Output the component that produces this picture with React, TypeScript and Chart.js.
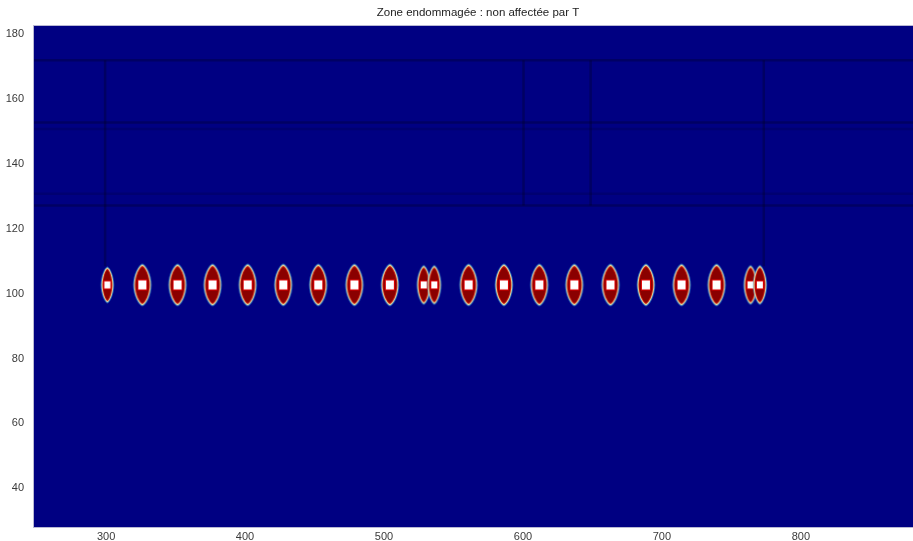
import { useEffect, useRef } from 'react';
import { Chart, registerables } from 'chart.js';
Chart.register(...registerables);

const chartTitle = 'Zone endommagée : non affectée par T';
const xTicks = [300, 400, 500, 600, 700, 800];
const yTicks = [40, 60, 80, 100, 120, 140, 160, 180];
const xMin = 247.4;
const xMax = 880.7;
const yMin = 27.7;
const yMax = 182.9;

// damage spots (centres)
const blobY = 102.7;
const edgeBlobX = [300.9];
const singleBlobX = [326.1, 351.4, 376.6, 401.9, 427.5, 452.7, 478.7, 504.2, 560.9, 586.3, 611.8, 637.0, 663.0, 688.5, 714.1, 739.3];
const pairBlobX = [528.6, 536.2, 763.8, 770.5];

// faint zone outlines
const majorLineY = [172.0, 152.8, 127.2];
const minorLineY = [150.8, 130.8];
const vLineX = [299.3, 600.4, 648.7, 773.3];
const vLineTop = 172.0;
const vLineBottom = [108.5, 127.2, 127.2, 108.5];

const FONT = "'Liberation Sans Narrow', 'Liberation Sans', Arial, sans-serif";
const EXTRA_W = 6;

function lensPath(ctx: CanvasRenderingContext2D, cx: number, cy: number, rx: number, ry: number) {
  ctx.beginPath();
  ctx.moveTo(cx, cy - ry);
  ctx.bezierCurveTo(cx + rx * 0.4, cy - ry * 0.95, cx + rx, cy - ry * 0.5, cx + rx, cy);
  ctx.bezierCurveTo(cx + rx, cy + ry * 0.5, cx + rx * 0.4, cy + ry * 0.95, cx, cy + ry);
  ctx.bezierCurveTo(cx - rx * 0.4, cy + ry * 0.95, cx - rx, cy + ry * 0.5, cx - rx, cy);
  ctx.bezierCurveTo(cx - rx, cy - ry * 0.5, cx - rx * 0.4, cy - ry * 0.95, cx, cy - ry);
  ctx.closePath();
}

function makeBlob(w: number, h: number, sq: number): HTMLCanvasElement {
  const c = document.createElement('canvas');
  const W = w + 6;
  const H = h + 6;
  c.width = W;
  c.height = H;
  const ctx = c.getContext('2d')!;
  const cx = W / 2;
  const cy = H / 2;
  lensPath(ctx, cx, cy, w / 2 + 1.3, h / 2 + 1.6);
  ctx.fillStyle = 'rgba(70,200,255,0.5)';
  ctx.fill();
  lensPath(ctx, cx, cy, w / 2 + 0.4, h / 2 + 0.4);
  ctx.fillStyle = '#e8dca0';
  ctx.fill();
  lensPath(ctx, cx, cy, w / 2 - 0.6, h / 2 - 1.0);
  ctx.fillStyle = '#c81008';
  ctx.fill();
  lensPath(ctx, cx, cy, w / 2 - 1.5, h / 2 - 2.2);
  ctx.fillStyle = '#8a0000';
  ctx.fill();
  ctx.fillStyle = '#e00000';
  ctx.fillRect(cx - sq / 2 - 1, cy - sq / 2 - 1.5, sq + 2, sq + 3);
  ctx.fillStyle = '#ffffff';
  ctx.fillRect(cx - sq / 2, cy - sq / 2 - 0.5, sq, sq + 1);
  return c;
}

export default function App() {
  const ref = useRef<HTMLCanvasElement>(null);
  useEffect(() => {
    document.body.style.margin = '0';
    const edgeImg = makeBlob(11, 34, 6);
    const singleImg = makeBlob(16, 40, 8);
    const pairImg = makeBlob(12, 37, 6);

    const lineDs = (pts: { x: number; y: number }[], color: string) => ({
      data: pts,
      showLine: true,
      borderColor: color,
      borderWidth: 2.5,
      pointRadius: 0,
      fill: false,
    });

    const datasets: any[] = [
      { data: edgeBlobX.map((x) => ({ x, y: blobY })), pointStyle: edgeImg, pointRadius: 5, showLine: false },
      { data: pairBlobX.map((x) => ({ x, y: blobY })), pointStyle: pairImg, pointRadius: 5, showLine: false },
      { data: singleBlobX.map((x) => ({ x, y: blobY })), pointStyle: singleImg, pointRadius: 5, showLine: false },
      ...majorLineY.map((y) => lineDs([{ x: xMin, y }, { x: xMax, y }], 'rgba(0,0,30,0.3)')),
      ...minorLineY.map((y) => lineDs([{ x: xMin, y }, { x: xMax, y }], 'rgba(0,0,30,0.17)')),
      ...vLineX.map((x, i) => lineDs([{ x, y: vLineTop }, { x, y: vLineBottom[i] }], 'rgba(0,0,30,0.3)')),
    ];

    const decor = {
      id: 'decor',
      beforeDatasetsDraw(chart: any) {
        const { ctx, chartArea: a } = chart;
        ctx.save();
        ctx.fillStyle = '#000082';
        ctx.fillRect(a.left, a.top, a.right - a.left, a.bottom - a.top);
        ctx.restore();
      },
      afterDraw(chart: any) {
        const { ctx, chartArea: a } = chart;
        ctx.save();
        ctx.strokeStyle = '#b8b8d4';
        ctx.lineWidth = 1;
        ctx.strokeRect(a.left + 0.5, a.top + 0.5, a.right - a.left, a.bottom - a.top - 1);
        ctx.fillStyle = '#222';
        ctx.font = `11.5px ${FONT}`;
        ctx.textAlign = 'center';
        ctx.textBaseline = 'middle';
        ctx.fillText(chartTitle, 478, 13);
        ctx.restore();
      },
    };

    const chart = new Chart(ref.current!, {
      type: 'scatter',
      data: { datasets },
      options: {
        responsive: false,
        animation: false,
        devicePixelRatio: 1,
        layout: { padding: { top: 25, left: 0, right: 0, bottom: 0 } },
        plugins: { legend: { display: false }, tooltip: { enabled: false }, title: { display: false } },
        scales: {
          x: {
            type: 'linear',
            min: xMin,
            max: xMax,
            grid: { display: false, drawTicks: false, tickLength: 0 },
            border: { display: false },
            ticks: { color: '#3a3a3a', font: { size: 11, family: FONT }, padding: 2, maxRotation: 0 },
            afterBuildTicks: (s: any) => { s.ticks = xTicks.map((v) => ({ value: v })); },
            afterFit: (s: any) => { s.height = 13; s.paddingLeft = 0; s.paddingRight = 0; },
          },
          y: {
            type: 'linear',
            min: yMin,
            max: yMax,
            grid: { display: false, drawTicks: false, tickLength: 0 },
            border: { display: false },
            ticks: { color: '#3a3a3a', font: { size: 11, family: FONT }, padding: 9 },
            afterBuildTicks: (s: any) => { s.ticks = yTicks.map((v) => ({ value: v })); },
            afterFit: (s: any) => { s.width = 33; s.paddingTop = 0; s.paddingBottom = 0; },
          },
        },
      },
      plugins: [decor],
    } as any);
    return () => chart.destroy();
  }, []);
  return (
    <div style={{ position: 'absolute', left: 0, top: 0, width: 913, height: 541, overflow: 'hidden', background: '#fff' }}>
      <canvas ref={ref} width={913 + EXTRA_W} height={541} style={{ display: 'block' }} />
    </div>
  );
}
